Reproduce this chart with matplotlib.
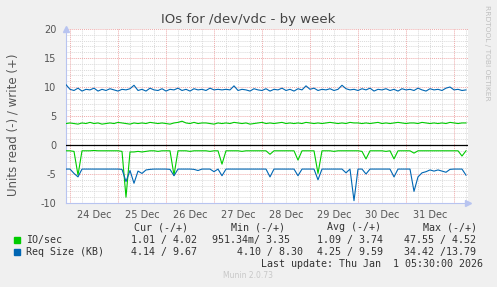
import numpy as np
import matplotlib
matplotlib.use('Agg')
import matplotlib.pyplot as plt
from matplotlib.patches import Rectangle

# hours since 24 Dec 00:00, one sample every 2 hours
hours = np.arange(-2, 200, 2)

# IO/sec write (+)
io_write = [3.7, 3.8, 3.7, 3.6, 3.8, 3.7, 3.9, 3.7, 3.8, 3.6,
            3.7, 3.8, 3.7, 3.9, 3.8, 3.7, 3.6, 3.8, 3.7, 3.8,
            3.7, 3.9, 3.8, 3.7, 3.8, 3.7, 3.6, 3.8, 3.9, 4.1,
            3.8, 3.7, 3.9, 3.7, 3.8, 3.8, 3.7, 3.6, 3.8, 3.7,
            3.8, 3.7, 3.9, 3.8, 3.7, 3.8, 3.6, 3.7, 3.8, 3.9,
            3.7, 3.8, 3.7, 3.8, 3.9, 3.7, 3.8, 3.7, 3.8, 3.7,
            3.9, 3.8, 3.7, 3.8, 3.7, 3.8, 3.9, 3.8, 3.7, 3.8,
            3.7, 3.9, 3.8, 3.8, 3.7, 3.8, 3.7, 3.8, 3.9, 3.7,
            3.8, 3.7, 3.8, 3.9, 3.8, 3.7, 3.8, 3.8, 3.7, 3.9,
            3.8, 3.7, 3.8, 3.7, 3.8, 3.7, 3.9, 3.8, 3.7, 3.8,
            3.8]
# IO/sec read (-), drawn below zero
io_read = [1.0, 1.0, 1.1, 5.2, 1.0, 1.0, 1.0, 0.95, 1.0, 1.0,
           1.0, 1.0, 1.0, 1.0, 1.1, 9.0, 1.2, 1.2, 1.1, 1.2,
           1.1, 1.0, 1.0, 1.1, 1.0, 1.0, 1.0, 5.2, 1.0, 1.0,
           1.0, 1.1, 1.0, 1.0, 1.0, 1.0, 1.1, 1.0, 1.0, 3.3,
           1.0, 1.0, 1.0, 1.0, 1.1, 1.0, 1.0, 1.0, 1.0, 1.0,
           1.0, 1.6, 1.0, 1.0, 1.0, 1.0, 1.0, 1.0, 2.6, 1.0,
           1.0, 1.0, 1.0, 4.9, 1.0, 1.0, 1.0, 1.1, 1.0, 1.0,
           1.0, 1.0, 1.0, 1.0, 1.1, 2.4, 1.0, 1.0, 1.0, 1.0,
           1.1, 1.0, 2.4, 1.0, 1.0, 1.0, 1.0, 1.4, 1.0, 1.0,
           1.0, 1.0, 1.0, 1.0, 1.0, 1.0, 1.0, 1.0, 1.0, 1.9,
           1.0]
# Req Size (KB) write (+)
req_write = [10.4, 9.6, 9.4, 9.8, 9.3, 9.6, 9.5, 9.8, 9.3, 9.6,
             9.4, 9.7, 9.5, 9.3, 9.6, 9.5, 9.7, 10.3, 9.4, 9.6,
             9.3, 9.8, 9.5, 9.4, 9.7, 9.3, 9.6, 9.5, 9.8, 9.4,
             9.6, 9.3, 9.7, 9.5, 9.6, 9.4, 9.8, 9.5, 9.6, 9.5,
             9.6, 9.5, 10.2, 9.4, 9.6, 9.5, 9.3, 9.7, 9.5, 9.4,
             9.7, 9.3, 9.6, 9.5, 9.8, 9.4, 9.6, 9.3, 9.7, 9.5,
             10.2, 9.6, 9.8, 9.4, 9.6, 9.5, 9.7, 9.4, 9.6, 10.3,
             9.7, 9.5, 9.6, 9.4, 9.7, 9.5, 9.8, 9.3, 9.6, 9.5,
             9.7, 9.4, 9.6, 9.3, 9.7, 9.5, 9.6, 9.4, 9.8, 9.5,
             9.3, 9.7, 9.5, 9.6, 9.4, 9.8, 10.0, 9.5, 9.6, 9.4,
             9.5]
# Req Size (KB) read (-)
req_read = [4.15, 4.15, 4.9, 5.5, 4.15, 4.15, 4.15, 4.15, 4.15, 4.15,
            4.15, 4.15, 4.15, 4.15, 4.2, 6.3, 4.4, 6.6, 4.5, 4.9,
            4.3, 4.2, 4.15, 4.15, 4.15, 4.15, 4.2, 5.3, 4.15, 4.15,
            4.15, 4.15, 4.2, 4.4, 4.15, 4.15, 4.15, 4.6, 4.15, 5.3,
            4.15, 4.15, 4.15, 4.15, 4.15, 4.15, 4.15, 4.15, 4.15, 4.15,
            4.15, 5.5, 4.15, 4.15, 4.15, 4.15, 4.15, 4.15, 5.3, 4.15,
            4.15, 4.15, 4.15, 6.0, 4.15, 4.15, 4.15, 4.15, 4.15, 4.15,
            4.8, 4.15, 9.6, 4.15, 4.15, 5.0, 4.15, 4.15, 4.15, 4.15,
            4.15, 4.15, 5.5, 4.15, 4.15, 4.15, 4.15, 8.0, 5.5, 4.8,
            4.6, 4.3, 4.5, 4.3, 4.5, 4.7, 4.2, 4.15, 4.15, 4.15,
            5.2]

day_labels = ['24 Dec', '25 Dec', '26 Dec', '27 Dec', '28 Dec', '29 Dec', '30 Dec', '31 Dec']
headers = ['Cur (-/+)', 'Min (-/+)', 'Avg (-/+)', 'Max (-/+)']
io_stats = ['1.01 / 4.02', '951.34m/ 3.35', '1.09 / 3.74', '47.55 / 4.52']
req_stats = ['4.14 / 9.67', '4.10 / 8.30', '4.25 / 9.59', '34.42 /13.79']

W, H = 497, 287
GREEN = '#00cc00'
BLUE = '#0066b3'
TXT = '#555555'

fig = plt.figure(figsize=(W / 100, H / 100), dpi=100, facecolor='#f0f0f0')

def px(x, y):
    return x / W, 1 - y / H

l, t, r, b = 66, 29, 468, 203
ax = fig.add_axes([l / W, 1 - b / H, (r - l) / W, (b - t) / H])
ax.set_facecolor('white')
ax.set_xlim(-2, 199)
ax.set_ylim(-10, 20)

# grid
for h in np.arange(0, 199, 6):
    if h % 24 == 0:
        ax.axvline(h, color='#eeaaaa', lw=0.7, ls=(0, (1, 1)), zorder=1)
    else:
        ax.axvline(h, color='#dadada', lw=0.7, ls=(0, (1, 1)), zorder=0)
for v in range(-10, 21):
    if v % 5 == 0:
        ax.axhline(v, color='#eeaaaa', lw=0.7, ls=(0, (1, 1)), zorder=1)
    else:
        ax.axhline(v, color='#dadada', lw=0.7, ls=(0, (1, 1)), zorder=0)

ax.plot(hours, io_write, color=GREEN, lw=0.8, zorder=3)
ax.plot(hours, -np.array(io_read), color=GREEN, lw=0.8, zorder=3)
ax.plot(hours, req_write, color=BLUE, lw=0.8, zorder=4)
ax.plot(hours, -np.array(req_read), color=BLUE, lw=0.8, zorder=4)
ax.axhline(0, color='black', lw=0.9, zorder=5)

for s in ['top', 'right']:
    ax.spines[s].set_visible(False)
for s in ['left', 'bottom']:
    ax.spines[s].set_color('#b8c4f0')
    ax.spines[s].set_linewidth(0.8)
ax.plot([0], [1.0], marker='^', color='#b8c4f0', ms=5, transform=ax.transAxes, clip_on=False)
ax.plot([1.0], [0], marker='>', color='#b8c4f0', ms=5, transform=ax.transAxes, clip_on=False)

ax.set_yticks(range(-10, 21, 5))
ax.set_yticklabels([str(v) for v in range(-10, 21, 5)])
ax.set_xticks(12 + 24 * np.arange(len(day_labels)))
ax.set_xticklabels(day_labels)
ax.tick_params(axis='both', length=0, labelsize=7, colors=TXT)
ax.tick_params(axis='y', pad=7)
ax.tick_params(axis='x', pad=5)

fig.text(*px(248, 19), 'IOs for /dev/vdc - by week', ha='center', va='center',
         fontsize=9.5, color='#444444')
fig.text(*px(13, 125), 'Units read (-) / write (+)', ha='center', va='center',
         rotation=90, fontsize=8.5, color=TXT)
fig.text(*px(487, 53), 'RRDTOOL / TOBI OETIKER', ha='center', va='center',
         rotation=270, fontsize=5.4, color='#c0c0c0')

mono = dict(family='DejaVu Sans Mono', fontsize=7.2, color='#333333', va='center', ha='left')
for hx, hd in zip([134, 231, 327, 423], headers):
    fig.text(*px(hx, 227), hd, **mono)
fig.add_artist(Rectangle(px(14, 243), 6 / W, 6 / H, color=GREEN, transform=fig.transFigure))
fig.add_artist(Rectangle(px(14, 255), 6 / W, 6 / H, color=BLUE, transform=fig.transFigure))
fig.text(*px(26, 240), 'IO/sec', **mono)
fig.text(*px(26, 252), 'Req Size (KB)', **mono)
for sx, st in zip([131, 212, 317, 404], io_stats):
    fig.text(*px(sx, 240), st, **mono)
for sx, st in zip([131, 237, 317, 404], req_stats):
    fig.text(*px(sx, 252), st, **mono)
fig.text(*px(261, 264), 'Last update: Thu Jan  1 05:30:00 2026', **mono)
fig.text(*px(248, 276), 'Munin 2.0.73', ha='center', va='center', fontsize=5.5, color='#c8c8c8')

fig.savefig('out.png', dpi=100, facecolor=fig.get_facecolor())
